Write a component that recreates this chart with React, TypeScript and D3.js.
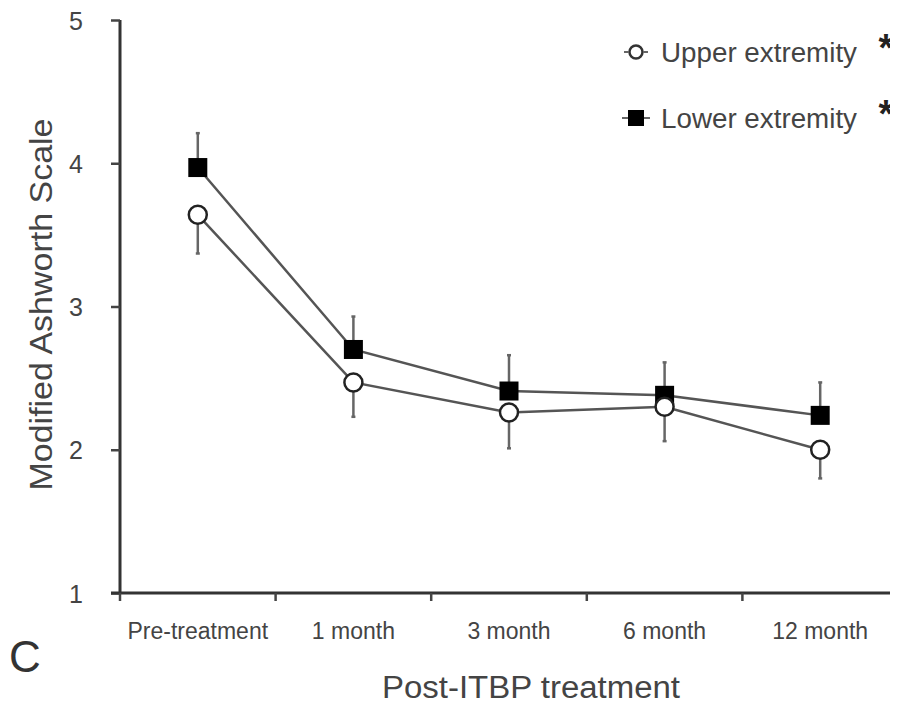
import React, { useEffect, useRef } from 'react';
import * as d3 from 'd3';

// categorias do eixo x
const categories = ['Pre-treatment', '1 month', '3 month', '6 month', '12 month'];

// médias e limites das barras de erro
const upperMean = [3.64, 2.47, 2.26, 2.30, 2.00];
const upperErrLow = [3.37, 2.23, 2.01, 2.06, 1.80];
const lowerMean = [3.97, 2.70, 2.41, 2.38, 2.24];
const lowerErrHigh = [4.21, 2.93, 2.66, 2.61, 2.47];

const yTicks = [1, 2, 3, 4, 5];
const legendLabels = ['Upper extremity', 'Lower extremity'];

const App: React.FC = () => {
  const svgRef = useRef<SVGSVGElement>(null);

  useEffect(() => {
    const width = 898;
    const height = 707;
    const font = '"Liberation Sans", Arial, sans-serif';

    const svg = d3.select(svgRef.current)
      .attr('width', width)
      .attr('height', height)
      .style('display', 'block')
      .style('background', '#fff');
    svg.selectAll('*').remove();

    const x = d3.scaleBand<string>().domain(categories).range([120, 898]);
    const y = d3.scaleLinear().domain([1, 5]).range([593, 20]);
    const cx = (c: string) => (x(c) as number) + x.bandwidth() / 2;

    // eixo y
    const yAxis = svg.append('g')
      .attr('transform', 'translate(120,0)')
      .call(d3.axisLeft(y).tickValues(yTicks).tickSize(9).tickPadding(28).tickFormat(d3.format('d')));
    yAxis.select('.domain').attr('stroke', '#333').attr('stroke-width', 3).attr('d', `M0,${y(5)}V${y(1)}`);
    yAxis.selectAll('.tick line').attr('stroke', '#444').attr('stroke-width', 2.5);
    yAxis.selectAll('.tick text')
      .attr('fill', '#444')
      .attr('dy', '0.36em')
      .style('font-family', font)
      .style('font-size', '25px');

    // eixo x
    const ticksX = categories.map((c) => x(c) as number).concat([897]);
    const xAxis = svg.append('g').attr('transform', `translate(0,${y(1)})`);
    xAxis.append('line')
      .attr('x1', 111).attr('x2', 898)
      .attr('stroke', '#333').attr('stroke-width', 3);
    xAxis.selectAll('line.tk')
      .data(ticksX)
      .enter().append('line')
      .attr('class', 'tk')
      .attr('x1', (d) => d).attr('x2', (d) => d)
      .attr('y1', 0).attr('y2', 8)
      .attr('stroke', '#444').attr('stroke-width', 2.5);
    xAxis.selectAll('text')
      .data(categories)
      .enter().append('text')
      .attr('x', (d) => cx(d))
      .attr('y', 46)
      .attr('text-anchor', 'middle')
      .attr('fill', '#444')
      .style('font-family', font)
      .style('font-size', '23px')
      .text((d) => d);

    // barras de erro
    const drawErr = (means: number[], ends: number[]) => {
      svg.append('g').selectAll('g')
        .data(categories)
        .enter().append('g')
        .each(function (c, i) {
          const g = d3.select(this);
          g.append('line')
            .attr('x1', cx(c)).attr('x2', cx(c))
            .attr('y1', y(means[i])).attr('y2', y(ends[i]))
            .attr('stroke', '#666').attr('stroke-width', 2.5);
          g.append('line')
            .attr('x1', cx(c) - 2).attr('x2', cx(c) + 2)
            .attr('y1', y(ends[i])).attr('y2', y(ends[i]))
            .attr('stroke', '#666').attr('stroke-width', 2.5);
        });
    };
    drawErr(upperMean, upperErrLow);
    drawErr(lowerMean, lowerErrHigh);

    // linhas
    const line = d3.line<number>()
      .x((_, i) => cx(categories[i]))
      .y((d) => y(d));
    [upperMean, lowerMean].forEach((s) => {
      svg.append('path')
        .attr('d', line(s) as string)
        .attr('fill', 'none')
        .attr('stroke', '#555')
        .attr('stroke-width', 2.5);
    });

    // marcadores
    svg.append('g').selectAll('rect')
      .data(lowerMean)
      .enter().append('rect')
      .attr('x', (_, i) => cx(categories[i]) - 9.5)
      .attr('y', (d) => y(d) - 9.5)
      .attr('width', 19).attr('height', 19)
      .attr('fill', '#000');
    svg.append('g').selectAll('circle')
      .data(upperMean)
      .enter().append('circle')
      .attr('cx', (_, i) => cx(categories[i]))
      .attr('cy', (d) => y(d))
      .attr('r', 9)
      .attr('fill', '#fff')
      .attr('stroke', '#222')
      .attr('stroke-width', 2.5);

    // legenda
    const legend = svg.append('g');
    legendLabels.forEach((label, i) => {
      const ly = 52 + i * 66;
      if (i === 0) {
        legend.append('circle')
          .attr('cx', 636).attr('cy', ly).attr('r', 6.5)
          .attr('fill', '#fff').attr('stroke', '#333').attr('stroke-width', 2.5);
        legend.append('line').attr('x1', 624).attr('x2', 629).attr('y1', ly).attr('y2', ly)
          .attr('stroke', '#666').attr('stroke-width', 2);
        legend.append('line').attr('x1', 643).attr('x2', 648).attr('y1', ly).attr('y2', ly)
          .attr('stroke', '#666').attr('stroke-width', 2);
      } else {
        legend.append('line').attr('x1', 622).attr('x2', 650).attr('y1', ly).attr('y2', ly)
          .attr('stroke', '#666').attr('stroke-width', 2);
        legend.append('rect')
          .attr('x', 628).attr('y', ly - 8).attr('width', 16).attr('height', 16)
          .attr('fill', '#000');
      }
      legend.append('text')
        .attr('x', 661).attr('y', ly + 10)
        .attr('fill', '#444')
        .attr('textLength', 196)
        .attr('lengthAdjust', 'spacingAndGlyphs')
        .style('font-family', font)
        .style('font-size', '27px')
        .text(label);
      legend.append('text')
        .attr('x', 886).attr('y', ly + 9)
        .attr('text-anchor', 'middle')
        .attr('fill', '#222')
        .style('font-family', font)
        .style('font-size', '38px')
        .style('font-weight', 'bold')
        .text('*');
    });

    // títulos
    svg.append('text')
      .attr('transform', `translate(52,${(y(1) + y(5)) / 2 - 2}) rotate(-90)`)
      .attr('text-anchor', 'middle')
      .attr('fill', '#444')
      .attr('textLength', 372)
      .attr('lengthAdjust', 'spacingAndGlyphs')
      .style('font-family', font)
      .style('font-size', '31px')
      .text('Modified Ashworth Scale');

    svg.append('text')
      .attr('x', 531).attr('y', 698)
      .attr('text-anchor', 'middle')
      .attr('fill', '#444')
      .attr('textLength', 298)
      .attr('lengthAdjust', 'spacingAndGlyphs')
      .style('font-family', font)
      .style('font-size', '31px')
      .text('Post-ITBP treatment');

    svg.append('text')
      .attr('x', 9).attr('y', 672)
      .attr('fill', '#333')
      .style('font-family', font)
      .style('font-size', '44px')
      .text('C');
  }, []);

  return (
    <div style={{ margin: -8 }}>
      <svg ref={svgRef}></svg>
    </div>
  );
};

export default App;
